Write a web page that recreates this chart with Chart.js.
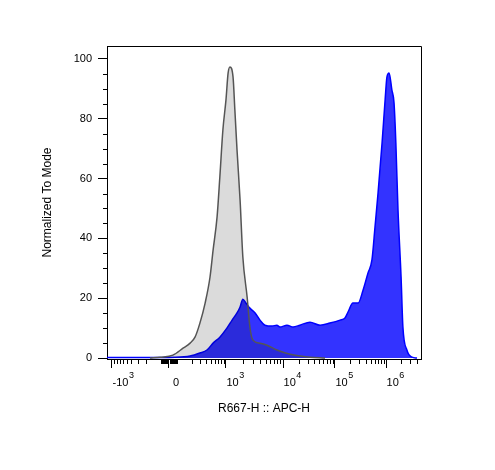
<!DOCTYPE html>
<html><head><meta charset="utf-8">
<script src="https://cdn.jsdelivr.net/npm/chart.js@4/dist/chart.umd.min.js"></script>
<style>html,body{margin:0;padding:0;background:#fff}</style>
</head><body>
<canvas id="c" width="495" height="470"></canvas>
<script>
// Histogram data on the display channel scale (0..1024 bins)
const greyChannels = [140,173,215,248,271,287,303,320,336,346,359,368,378,388,395,401,411,417,424,434,443,457,466,476,499,522,554,597,662,711];
const greyValues   = [0,0.3,1.0,3.3,5.0,7.0,11.7,18.4,27.1,36.1,47.2,60.5,76.3,86.3,95.3,97.3,94.0,82.9,69.6,52.8,33.8,20.4,10.4,6.0,5.0,4.3,2.7,1.3,0.3,0];
const blueChannels = [0,108,222,271,303,326,346,368,391,408,424,434,443,453,466,483,499,515,538,554,564,587,607,629,662,695,727,760,776,786,802,819,835,851,864,874,884,897,907,913,920,929,936,942,949,959,965,978,995,1011];
const blueValues   = [0.2,0.2,0.3,0.7,1.7,2.7,5.0,7.0,10.0,12.7,15.1,17.1,19.7,18.4,16.7,15.1,12.7,11.0,10.7,11.0,10.4,11.0,10.4,11.0,12.0,11.0,11.7,12.7,13.4,15.4,18.4,18.4,22.7,28.4,32.8,43.8,55.2,71.9,86.3,94.0,95.3,89.6,85.3,71.9,49.5,27.1,10.4,2.7,0.3,0];
const xTickValues = [-1000, 0, 1000, 10000, 100000, 1000000];
const xTickBase   = ['-10', '0', '10', '10', '10', '10'];
const xTickExp    = ['3', '', '3', '4', '5', '6'];
const yTitle = 'Normalized To Mode';
const xTitle = 'R667-H :: APC-H';

// biexponential-like display transform: intensity -> channel
const AX = {zero: 202, lin: 26, neg1k: 16.3, dec: {3: 388, 4: 574, 5: 743.5, 6: 910, 7: 1076}};
function chan(v) {
  const a = Math.abs(v), s = Math.sign(v);
  if (a <= 100) return AX.zero + s * AX.lin * a / 100;
  if (v > 0) {
    if (a < 1000) return AX.zero + AX.lin + (AX.dec[3] - AX.zero - AX.lin) * Math.log10(a / 100);
    const L = Math.log10(a) + 1e-9, k = Math.floor(L);
    return AX.dec[k] + Math.max(0, L - k) * (AX.dec[k + 1] - AX.dec[k]);
  }
  const span = AX.zero - AX.lin - AX.neg1k;
  return AX.zero - AX.lin - span * Math.log10(a / 100);
}
const minorValues = [];
for (let m = 1; m <= 9; m++) {
  minorValues.push(m * 10, -m * 10, m * 100, -m * 100);
  if (m > 1) minorValues.push(m * 1e3, m * 1e4, m * 1e5, m * 1e6, -m * 1e3);
}

const FONT = 'Liberation Sans, Arial, Helvetica, sans-serif';
Chart.defaults.font.family = FONT;
Chart.defaults.color = '#000';

const axisExtras = {
  id: 'axisExtras',
  afterDraw(chart) {
    const {ctx, chartArea: ca, scales: {x, y}} = chart;
    ctx.save();
    ctx.strokeStyle = '#000';
    ctx.lineWidth = 1;
    ctx.beginPath();
    ctx.moveTo(ca.left, ca.top + 0.5);
    ctx.lineTo(ca.right + 0.5, ca.top + 0.5);
    ctx.lineTo(ca.right + 0.5, ca.bottom);
    minorValues.forEach(v => {
      const c = chan(v);
      if (c < x.min || c > x.max) return;
      const px = Math.round(x.getPixelForValue(c)) + 0.5;
      ctx.moveTo(px, ca.bottom);
      ctx.lineTo(px, ca.bottom + 5);
    });
    for (let v = 5; v < 105; v += 5) {
      if (v % 20 === 0) continue;
      const py = Math.round(y.getPixelForValue(v)) + 0.5;
      ctx.moveTo(ca.left - 4, py);
      ctx.lineTo(ca.left, py);
    }
    ctx.stroke();
    // x tick labels with superscript exponents
    ctx.fillStyle = '#000';
    ctx.textBaseline = 'alphabetic';
    ctx.textAlign = 'left';
    xTickValues.forEach((v, i) => {
      const px = x.getPixelForValue(chan(v));
      ctx.font = '11px ' + FONT;
      const wb = ctx.measureText(xTickBase[i]).width;
      ctx.font = '9px ' + FONT;
      const we = xTickExp[i] ? ctx.measureText(xTickExp[i]).width : 0;
      const start = xTickExp[i] ? px + 0.5 : px + 7 - wb / 2;
      ctx.font = '11px ' + FONT;
      ctx.fillText(xTickBase[i], start, 386);
      if (xTickExp[i]) {
        ctx.font = '9px ' + FONT;
        ctx.fillText(xTickExp[i], start + wb + 0.5, 378);
      }
    });
    ctx.restore();
  }
};

const toXY = (xs, ys) => xs.map((c, i) => ({x: c, y: ys[i]}));

new Chart(document.getElementById('c'), {
  type: 'line',
  data: {
    datasets: [
      {
        label: 'Control',
        data: toXY(greyChannels, greyValues),
        borderColor: '#555555',
        borderWidth: 1.5,
        backgroundColor: 'rgba(0,0,0,0.14)',
        fill: 'origin',
        pointRadius: 0,
        cubicInterpolationMode: 'monotone'
      },
      {
        label: 'APC',
        data: toXY(blueChannels, blueValues),
        borderColor: '#0000ff',
        borderWidth: 1.5,
        backgroundColor: '#3333ff',
        fill: 'origin',
        pointRadius: 0,
        cubicInterpolationMode: 'monotone'
      }
    ]
  },
  options: {
    responsive: false,
    animation: false,
    devicePixelRatio: 1,
    layout: {padding: {top: 46, right: 74, bottom: 0, left: 0}},
    plugins: {legend: {display: false}, tooltip: {enabled: false}},
    scales: {
      x: {
        type: 'linear',
        min: 0,
        max: 1024,
        afterBuildTicks(s) { s.ticks = xTickValues.map(v => ({value: chan(v)})); },
        afterFit(s) { s.height = 111; },
        ticks: {autoSkip: false, callback: () => ''},
        grid: {display: true, drawOnChartArea: false, drawTicks: true, tickLength: 9, color: '#000', lineWidth: 1},
        border: {display: true, color: '#000', width: 1},
        title: {display: true, text: xTitle, color: '#000', font: {size: 12, family: FONT}, padding: {top: 0, bottom: 53.8}}
      },
      y: {
        type: 'linear',
        min: -0.3,
        max: 104.3,
        afterFit(s) { s.width = 107; },
        ticks: {stepSize: 20, includeBounds: false, padding: 6, color: '#000', font: {size: 11, family: FONT}},
        grid: {display: true, drawOnChartArea: false, drawTicks: true, tickLength: 9, color: '#000', lineWidth: 1},
        border: {display: true, color: '#000', width: 1},
        title: {display: true, text: yTitle, color: '#000', font: {size: 12, family: FONT}, padding: {top: 40.8, bottom: 0}}
      }
    }
  },
  plugins: [axisExtras]
});
</script>
</body></html>
